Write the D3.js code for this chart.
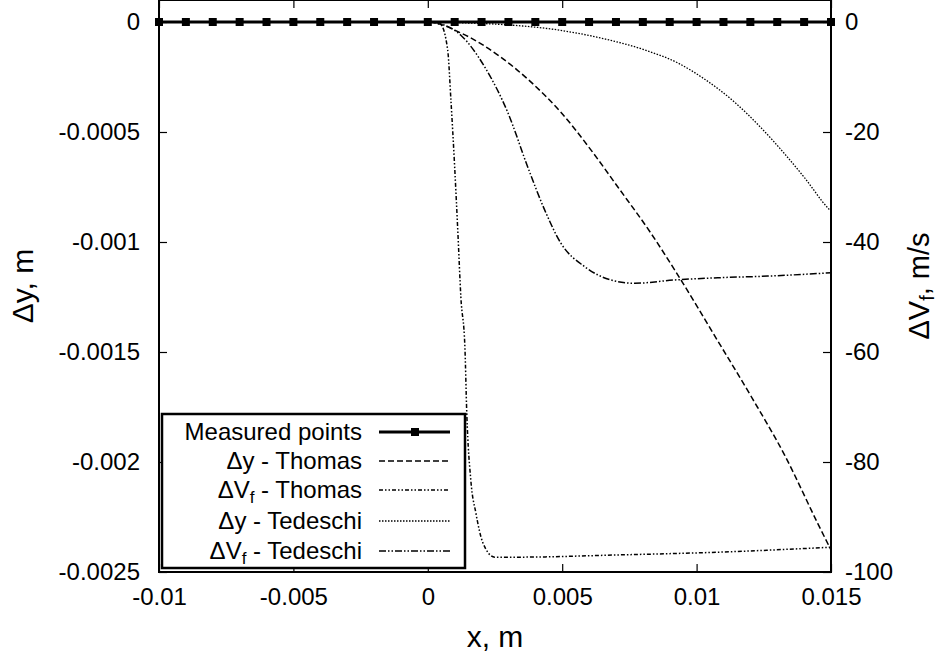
<!DOCTYPE html>
<html>
<head>
<meta charset="utf-8">
<script src="https://cdn.jsdelivr.net/npm/d3@7"></script>
<style>
  body { margin: 0; background: #fff; }
  text { font-family: "Liberation Sans", Arial, sans-serif; fill: #000; }
</style>
</head>
<body>
<script>
// measured points every 1 mm, all zero
const measX = d3.range(-0.01, 0.01501, 0.001);
const measY = measX.map(() => 0);

// Δy - Thomas (left axis, m)
const thomasDyX = [-0.01, 0, 0.00123, 0.00272, 0.00372, 0.00495, 0.00606, 0.00707, 0.0083, 0.0092, 0.01079, 0.01202, 0.01328, 0.01451, 0.015];
const thomasDyY = [0, 0, -0.00005, -0.00016, -0.00026, -0.00041, -0.00058, -0.00075, -0.00096, -0.00113, -0.00145, -0.00170, -0.00197, -0.00228, -0.0024];

// ΔVf - Thomas (right axis, m/s)
const thomasVfX = [-0.01, 0, 0.00048, 0.00074, 0.00086, 0.001, 0.00112, 0.00123, 0.00138, 0.00145, 0.0016, 0.00179, 0.00205, 0.00249, 0.00335, 0.00707, 0.01079, 0.015];
const thomasVfY = [0, 0, -0.5, -5.1, -14.2, -26.4, -38.4, -50, -59.1, -71.1, -83.3, -89.3, -94.7, -97.3, -97.3, -96.9, -96.4, -95.5];

// Δy - Tedeschi (left axis, m)
const tedDyX = [-0.01, 0, 0.00149, 0.00309, 0.00484, 0.00644, 0.00807, 0.0093, 0.0103, 0.01142, 0.01239, 0.01328, 0.01403, 0.01488, 0.015];
const tedDyY = [0, 0, -0.0000045, -0.000014, -0.000036, -0.000073, -0.000127, -0.000186, -0.000260, -0.000365, -0.00048, -0.000600, -0.000710, -0.000845, -0.00086];

// ΔVf - Tedeschi (right axis, m/s)
const tedVfX = [-0.01, 0, 0.00037, 0.00123, 0.00212, 0.00298, 0.00372, 0.00435, 0.00495, 0.00584, 0.00681, 0.0077, 0.0092, 0.01079, 0.01265, 0.015];
const tedVfY = [0, 0, -0.2, -2.4, -8.2, -16.5, -26.4, -34.2, -40.2, -44.5, -46.9, -47.5, -46.9, -46.5, -46.2, -45.6];

const xTicks = [-0.01, -0.005, 0, 0.005, 0.01, 0.015];
const yLeftTicks = [0, -0.0005, -0.001, -0.0015, -0.002, -0.0025];
const yRightTicks = [0, -20, -40, -60, -80, -100];

const width = 942, height = 657;
const margin = {top: 0, right: 111, bottom: 85, left: 159};

const svg = d3.select("body").append("svg")
    .attr("width", width)
    .attr("height", height);

const xscale = d3.scaleLinear().domain([-0.01, 0.015]).range([margin.left, width - margin.right]);
const yleft = d3.scaleLinear().domain([-0.0025, 0.0001]).range([height - margin.bottom, margin.top]);
const yright = d3.scaleLinear().domain([-100, 4]).range([height - margin.bottom, margin.top]);

const x0 = margin.left, x1 = width - margin.right;
const y0 = margin.top, y1 = height - margin.bottom;

// axes with inward ticks
const fmt = d => String(+d.toPrecision(6));

const xb = svg.append("g")
    .attr("transform", "translate(0," + y1 + ")")
    .call(d3.axisBottom(xscale).tickValues(xTicks).tickSizeInner(-8).tickSizeOuter(0).tickPadding(16).tickFormat(fmt));
const xt = svg.append("g")
    .attr("transform", "translate(0," + y0 + ")")
    .call(d3.axisTop(xscale).tickValues(xTicks).tickSizeInner(-8).tickSizeOuter(0).tickFormat(""));
const yl = svg.append("g")
    .attr("transform", "translate(" + x0 + ",0)")
    .call(d3.axisLeft(yleft).tickValues(yLeftTicks).tickSizeInner(-8).tickSizeOuter(0).tickPadding(19).tickFormat(fmt));
const yr = svg.append("g")
    .attr("transform", "translate(" + x1 + ",0)")
    .call(d3.axisRight(yright).tickValues(yRightTicks).tickSizeInner(-8).tickSizeOuter(0).tickPadding(14).tickFormat(fmt));

[xb, xt, yl, yr].forEach(g => {
    g.select(".domain").remove();
    g.selectAll(".tick line").attr("stroke", "#000").attr("stroke-width", 1.2);
    g.selectAll(".tick text").attr("font-size", 24).attr("font-family", "Liberation Sans, Arial, sans-serif");
});

// frame
svg.append("rect")
    .attr("x", x0).attr("y", y0)
    .attr("width", x1 - x0).attr("height", y1 - y0)
    .attr("fill", "none").attr("stroke", "#000").attr("stroke-width", 2);

// axis titles
svg.append("text")
    .attr("x", (x0 + x1) / 2).attr("y", 647)
    .attr("text-anchor", "middle")
    .attr("font-size", 30)
    .text("x, m");

svg.append("text")
    .attr("transform", "translate(33," + ((y0 + y1) / 2) + ") rotate(-90)")
    .attr("text-anchor", "middle")
    .attr("font-size", 30)
    .text("\u0394y, m");

const rt = svg.append("text")
    .attr("transform", "translate(929," + ((y0 + y1) / 2) + ") rotate(-90)")
    .attr("text-anchor", "middle")
    .attr("font-size", 29);
rt.append("tspan").text("\u0394V");
rt.append("tspan").attr("font-size", 20).attr("dy", 5).text("f");
rt.append("tspan").attr("dy", -5).text(", m/s");

// curves
const plot = svg.append("g");
const series = [
    {xs: thomasDyX, ys: thomasDyY, y: yleft, dash: "6,3", w: 1.5},
    {xs: thomasVfX, ys: thomasVfY, y: yright, dash: "4,2,1.5,2,1.5,2", w: 1.5},
    {xs: tedDyX, ys: tedDyY, y: yleft, dash: "1.5,1.5", w: 1.3},
    {xs: tedVfX, ys: tedVfY, y: yright, dash: "7,2,1.5,2,1.5,2", w: 1.5}
];
series.forEach(s => {
    const pts = s.xs.map((x, i) => [x, s.ys[i]]);
    plot.append("path")
        .attr("d", d3.line().x(d => xscale(d[0])).y(d => s.y(d[1])).curve(d3.curveMonotoneX)(pts))
        .attr("fill", "none")
        .attr("stroke", "#000")
        .attr("stroke-width", s.w)
        .attr("stroke-dasharray", s.dash);
});

// measured points
const meas = measX.map((x, i) => [x, measY[i]]);
plot.append("path")
    .attr("d", d3.line().x(d => xscale(d[0])).y(d => yleft(d[1]))(meas))
    .attr("fill", "none").attr("stroke", "#000").attr("stroke-width", 3);
plot.selectAll("rect.mk").data(meas).join("rect")
    .attr("class", "mk")
    .attr("x", d => xscale(d[0]) - 4).attr("y", d => yleft(d[1]) - 4)
    .attr("width", 8).attr("height", 8)
    .attr("fill", "#000");

// legend
const leg = svg.append("g");
leg.append("rect")
    .attr("x", 162).attr("y", 414)
    .attr("width", 303).attr("height", 154)
    .attr("fill", "#fff").attr("stroke", "#000").attr("stroke-width", 2.5);

const legendItems = [
    {label: ["Measured points"], dash: null, w: 3, marker: true},
    {label: ["\u0394y - Thomas"], dash: "6,3", w: 1.5},
    {label: ["\u0394V", "f", " - Thomas"], dash: "4,2,1.5,2,1.5,2", w: 1.5},
    {label: ["\u0394y - Tedeschi"], dash: "1.5,1.5", w: 1.3},
    {label: ["\u0394V", "f", " - Tedeschi"], dash: "7,2,1.5,2,1.5,2", w: 1.5}
];
const rowY = [432, 461, 490, 521, 551];
legendItems.forEach((it, i) => {
    const yy = rowY[i];
    const t = leg.append("text")
        .attr("x", 362).attr("y", yy + 8)
        .attr("text-anchor", "end")
        .attr("font-size", 24);
    if (it.label.length === 1) {
        t.text(it.label[0]);
    } else {
        t.append("tspan").text(it.label[0]);
        t.append("tspan").attr("font-size", 17).attr("dy", 5).text(it.label[1]);
        t.append("tspan").attr("dy", -5).text(it.label[2]);
    }
    leg.append("line")
        .attr("x1", 379).attr("x2", 450)
        .attr("y1", yy).attr("y2", yy)
        .attr("stroke", "#000")
        .attr("stroke-width", it.w)
        .attr("stroke-dasharray", it.dash);
    if (it.marker) {
        leg.append("rect")
            .attr("x", 411).attr("y", yy - 4)
            .attr("width", 8).attr("height", 8)
            .attr("fill", "#000");
    }
});
</script>
</body>
</html>
